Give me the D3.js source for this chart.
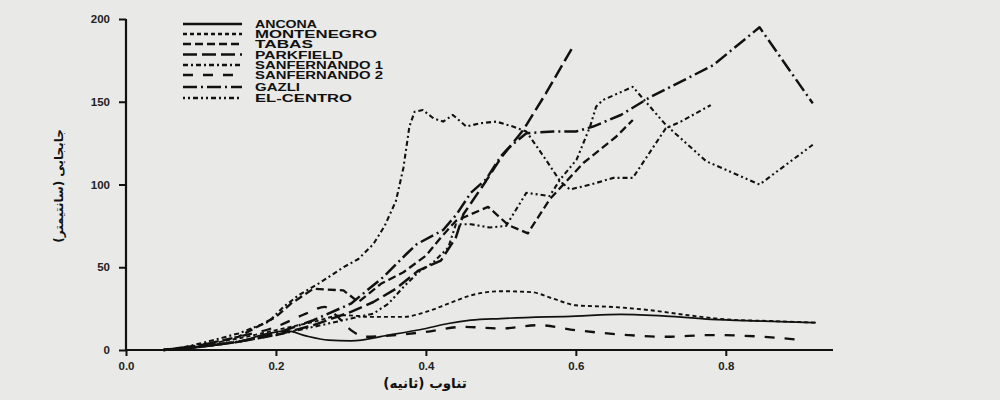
<!DOCTYPE html>
<html>
<head>
<meta charset="utf-8">
<script src="https://cdn.jsdelivr.net/npm/d3@7"></script>
<style>
  html, body { margin: 0; padding: 0; background: #e9e9e7; }
  svg { display: block; }
</style>
</head>
<body>
<svg id="chart" width="1000" height="400"></svg>
<script>
// ---- data: [period (s), displacement (cm)] ----
const ancona = [[0.05,0],[0.1,2],[0.15,5],[0.19,10],[0.215,11.5],[0.24,8.5],[0.27,6],[0.3,5.5],[0.35,9],[0.4,13],[0.43,16],[0.46,18],[0.5,19],[0.6,20.5],[0.66,21.5],[0.72,20.5],[0.78,18.5],[0.85,17.5],[0.92,16.5]];
const montenegro = [[0.05,0],[0.1,3],[0.15,7],[0.2,12],[0.25,17],[0.29,21],[0.33,20],[0.37,20],[0.4,23],[0.43,28],[0.46,33],[0.5,35.5],[0.54,35],[0.57,31],[0.6,27],[0.65,26],[0.7,24],[0.75,21],[0.8,18.5],[0.86,17.5],[0.92,16.5]];
const tabas = [[0.05,0],[0.1,3],[0.15,8],[0.2,20],[0.22,28],[0.25,37],[0.29,36],[0.31,29],[0.34,40],[0.37,47],[0.4,57],[0.42,68],[0.44,78],[0.46,82],[0.483,86.5],[0.51,75.5],[0.536,70.5],[0.565,91],[0.61,113],[0.654,129],[0.676,139]];
const parkfield = [[0.05,0],[0.1,2],[0.15,5],[0.2,9],[0.25,15],[0.3,23],[0.33,29],[0.36,37],[0.39,48],[0.42,54],[0.44,68],[0.45,82],[0.48,102],[0.5,116],[0.53,133],[0.56,155],[0.597,184]];
const sanfernando1 = [[0.06,0],[0.1,4],[0.15,10],[0.19,17],[0.21,26],[0.23,33],[0.26,41],[0.29,50],[0.31,55],[0.33,64],[0.345,75],[0.36,90],[0.37,110],[0.378,135],[0.385,144],[0.396,145],[0.41,140],[0.423,138],[0.436,142],[0.454,135],[0.472,137],[0.494,138],[0.516,135],[0.534,132],[0.56,115],[0.579,102],[0.592,97],[0.62,100],[0.65,104],[0.676,104],[0.72,134],[0.74,138],[0.78,148]];
const sanfernando2 = [[0.05,0],[0.1,3],[0.15,8],[0.2,14],[0.24,22],[0.265,26],[0.28,21],[0.3,12],[0.32,8],[0.36,9],[0.4,11],[0.45,14],[0.5,13],[0.55,15],[0.6,12],[0.67,9],[0.72,8],[0.78,9],[0.85,8],[0.9,6]];
const gazli = [[0.05,0],[0.1,2],[0.15,5],[0.2,10],[0.25,18],[0.3,28],[0.343,44],[0.374,58],[0.388,64],[0.423,72.5],[0.441,82],[0.46,95],[0.48,103],[0.5,117],[0.51,122],[0.534,131],[0.57,132],[0.6,132],[0.623,135],[0.66,142],[0.7,153],[0.783,172],[0.845,195],[0.916,149]];
const elcentro = [[0.05,0],[0.1,2],[0.15,5],[0.2,9],[0.25,14],[0.3,19],[0.33,22],[0.35,28],[0.37,38],[0.39,47],[0.41,53],[0.43,62],[0.44,76],[0.46,76],[0.485,74],[0.507,75],[0.534,95],[0.565,93],[0.579,103],[0.601,115],[0.619,135],[0.627,147],[0.636,151],[0.676,159],[0.72,136],[0.774,114],[0.845,100],[0.916,124]];

const seriesNames = ["ANCONA","MONTENEGRO","TABAS","PARKFIELD","SANFERNANDO 1","SANFERNANDO 2","GAZLI","EL-CENTRO"];
const seriesData = [ancona, montenegro, tabas, parkfield, sanfernando1, sanfernando2, gazli, elcentro];
const xTicks = [0, 0.2, 0.4, 0.6, 0.8];
const yTicks = [0, 50, 100, 150, 200];
const xTitle = "تناوب (ثانیه)";
const yTitle = "جابجایی (سانتیمتر)";

// ---- styles ----
const dashes = [null, "4,3", "8,4", "14,5", "5,3,2,3", "10,10", "14,4,2,4", "2,3,2,3,5,3"];
const widths = [1.7, 1.9, 2.3, 2.5, 2.1, 2.3, 2.5, 2.1];
const legendLens = [62, 122, 58, 88, 128, 128, 45, 97];

const svg = d3.select("#chart");
const x = d3.scaleLinear().domain([0, 0.943]).range([126, 833]);
const y = d3.scaleLinear().domain([0, 200]).range([350, 19]);

// axes
const xAxis = svg.append("g").attr("transform", "translate(0,350)")
  .call(d3.axisBottom(x).tickValues(xTicks).tickFormat(d3.format(".1f")).tickSize(6).tickPadding(6));
const yAxis = svg.append("g").attr("transform", "translate(126,0)")
  .call(d3.axisLeft(y).tickValues(yTicks).tickSize(7).tickPadding(9));
[xAxis, yAxis].forEach(g => {
  g.select(".domain").attr("stroke", "#111").attr("stroke-width", 2.2);
  g.selectAll(".tick line").attr("stroke", "#111").attr("stroke-width", 2);
  g.selectAll(".tick text").attr("fill", "#222").attr("font-family", "Liberation Sans, Arial, sans-serif")
    .attr("font-size", 11.5).attr("font-weight", "bold");
});
xAxis.select(".domain").attr("d", `M126,0H833`);
yAxis.select(".domain").attr("d", `M0,${y(200)}V350`);

// lines
const line = d3.line().x(d => x(d[0])).y(d => y(d[1]));
const smooth = d3.line().x(d => x(d[0])).y(d => y(d[1])).curve(d3.curveMonotoneX);
seriesData.forEach((data, i) => {
  const gen = (i === 0 || i === 1 || i === 5) ? smooth : line;
  svg.append("path").datum(data)
    .attr("d", gen)
    .attr("fill", "none")
    .attr("stroke", "#111")
    .attr("stroke-width", widths[i])
    .attr("stroke-dasharray", dashes[i])
    .attr("stroke-linejoin", "round");
});

// legend
const legendY = [24, 34, 44, 54.5, 65, 75, 87, 98];
const lg = svg.append("g");
seriesNames.forEach((name, i) => {
  lg.append("line").attr("x1", 183).attr("x2", 242).attr("y1", legendY[i]).attr("y2", legendY[i])
    .attr("stroke", "#111").attr("stroke-width", 2.4).attr("stroke-dasharray", dashes[i]);
  lg.append("text").attr("x", 255).attr("y", legendY[i] + 4)
    .attr("font-family", "Liberation Sans, Arial, sans-serif").attr("font-weight", "bold")
    .attr("font-size", 11.5).attr("fill", "#111")
    .attr("textLength", legendLens[i]).attr("lengthAdjust", "spacingAndGlyphs")
    .text(name);
});

// titles
svg.append("text").attr("x", 425).attr("y", 388).attr("text-anchor", "middle")
  .attr("font-family", "DejaVu Sans, sans-serif").attr("font-weight", "bold").attr("font-size", 13.5)
  .attr("fill", "#111").style("direction", "rtl").text(xTitle);
svg.append("text").attr("transform", "translate(63,186) rotate(-90)").attr("text-anchor", "middle")
  .attr("font-family", "DejaVu Sans, sans-serif").attr("font-weight", "bold").attr("font-size", 12)
  .attr("fill", "#111").style("direction", "rtl").text(yTitle);
</script>
</body>
</html>
